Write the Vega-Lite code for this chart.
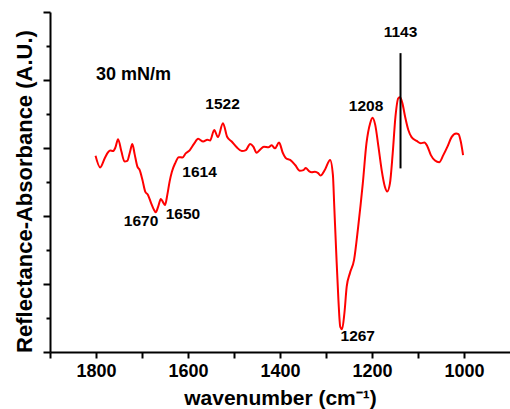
{
  "$schema": "https://vega.github.io/schema/vega-lite/v6.json",
  "width": 460,
  "height": 340,
  "autosize": {"type": "none"},
  "padding": {"left": 50, "top": 12, "right": 0, "bottom": 57},
  "config": {
    "view": {"stroke": null},
    "font": "Liberation Sans",
    "axis": {"grid": false, "domainColor": "black", "tickColor": "black", "labelColor": "black", "titleColor": "black", "labelFont": "Liberation Sans", "titleFont": "Liberation Sans"}
  },
  "datasets": {
    "spectrum": [
      {"wavenumber": 1801, "absorbance": 5.77}, {"wavenumber": 1791, "absorbance": 5.43},
      {"wavenumber": 1781, "absorbance": 5.70}, {"wavenumber": 1774, "absorbance": 5.87},
      {"wavenumber": 1769, "absorbance": 5.93}, {"wavenumber": 1763, "absorbance": 5.91},
      {"wavenumber": 1758, "absorbance": 6.01}, {"wavenumber": 1752, "absorbance": 6.26},
      {"wavenumber": 1745, "absorbance": 5.91}, {"wavenumber": 1738, "absorbance": 5.60},
      {"wavenumber": 1732, "absorbance": 5.62}, {"wavenumber": 1726, "absorbance": 5.89},
      {"wavenumber": 1721, "absorbance": 6.12}, {"wavenumber": 1716, "absorbance": 5.82},
      {"wavenumber": 1710, "absorbance": 5.45}, {"wavenumber": 1705, "absorbance": 5.35},
      {"wavenumber": 1699, "absorbance": 5.06}, {"wavenumber": 1693, "absorbance": 4.72},
      {"wavenumber": 1687, "absorbance": 4.62}, {"wavenumber": 1680, "absorbance": 4.37},
      {"wavenumber": 1675, "absorbance": 4.21}, {"wavenumber": 1670, "absorbance": 4.11},
      {"wavenumber": 1665, "absorbance": 4.27}, {"wavenumber": 1659, "absorbance": 4.50},
      {"wavenumber": 1654, "absorbance": 4.40}, {"wavenumber": 1650, "absorbance": 4.32},
      {"wavenumber": 1645, "absorbance": 4.62}, {"wavenumber": 1640, "absorbance": 5.01},
      {"wavenumber": 1635, "absorbance": 5.30}, {"wavenumber": 1628, "absorbance": 5.55},
      {"wavenumber": 1620, "absorbance": 5.73}, {"wavenumber": 1612, "absorbance": 5.72},
      {"wavenumber": 1605, "absorbance": 5.84}, {"wavenumber": 1596, "absorbance": 5.94},
      {"wavenumber": 1587, "absorbance": 6.12}, {"wavenumber": 1578, "absorbance": 6.27},
      {"wavenumber": 1567, "absorbance": 6.19}, {"wavenumber": 1558, "absorbance": 6.24},
      {"wavenumber": 1552, "absorbance": 6.22}, {"wavenumber": 1543, "absorbance": 6.53},
      {"wavenumber": 1535, "absorbance": 6.32}, {"wavenumber": 1524, "absorbance": 6.73},
      {"wavenumber": 1515, "absorbance": 6.33}, {"wavenumber": 1505, "absorbance": 6.19},
      {"wavenumber": 1494, "absorbance": 6.02}, {"wavenumber": 1483, "absorbance": 5.91},
      {"wavenumber": 1474, "absorbance": 5.94}, {"wavenumber": 1465, "absorbance": 6.12},
      {"wavenumber": 1458, "absorbance": 6.04}, {"wavenumber": 1451, "absorbance": 5.86},
      {"wavenumber": 1444, "absorbance": 5.94}, {"wavenumber": 1435, "absorbance": 6.04},
      {"wavenumber": 1425, "absorbance": 6.02}, {"wavenumber": 1418, "absorbance": 6.08},
      {"wavenumber": 1411, "absorbance": 5.99}, {"wavenumber": 1402, "absorbance": 6.16},
      {"wavenumber": 1394, "absorbance": 5.86}, {"wavenumber": 1387, "absorbance": 5.70},
      {"wavenumber": 1378, "absorbance": 5.65}, {"wavenumber": 1367, "absorbance": 5.50},
      {"wavenumber": 1357, "absorbance": 5.33}, {"wavenumber": 1349, "absorbance": 5.35},
      {"wavenumber": 1344, "absorbance": 5.41}, {"wavenumber": 1337, "absorbance": 5.32},
      {"wavenumber": 1331, "absorbance": 5.29}, {"wavenumber": 1324, "absorbance": 5.30},
      {"wavenumber": 1317, "absorbance": 5.26}, {"wavenumber": 1312, "absorbance": 5.19},
      {"wavenumber": 1302, "absorbance": 5.37}, {"wavenumber": 1291, "absorbance": 5.65},
      {"wavenumber": 1285, "absorbance": 5.21}, {"wavenumber": 1282, "absorbance": 4.27},
      {"wavenumber": 1278, "absorbance": 3.00}, {"wavenumber": 1273, "absorbance": 1.53},
      {"wavenumber": 1269, "absorbance": 0.74}, {"wavenumber": 1265, "absorbance": 0.67},
      {"wavenumber": 1260, "absorbance": 1.14}, {"wavenumber": 1255, "absorbance": 1.92},
      {"wavenumber": 1248, "absorbance": 2.32}, {"wavenumber": 1239, "absorbance": 2.71},
      {"wavenumber": 1230, "absorbance": 3.69}, {"wavenumber": 1220, "absorbance": 4.96},
      {"wavenumber": 1212, "absorbance": 6.14}, {"wavenumber": 1204, "absorbance": 6.73},
      {"wavenumber": 1199, "absorbance": 6.89}, {"wavenumber": 1193, "absorbance": 6.68},
      {"wavenumber": 1186, "absorbance": 6.04}, {"wavenumber": 1179, "absorbance": 5.35},
      {"wavenumber": 1172, "absorbance": 4.86}, {"wavenumber": 1167, "absorbance": 4.72},
      {"wavenumber": 1161, "absorbance": 4.96}, {"wavenumber": 1155, "absorbance": 5.84},
      {"wavenumber": 1149, "absorbance": 6.92}, {"wavenumber": 1143, "absorbance": 7.46},
      {"wavenumber": 1139, "absorbance": 7.49}, {"wavenumber": 1134, "absorbance": 7.32},
      {"wavenumber": 1128, "absorbance": 6.92}, {"wavenumber": 1121, "absorbance": 6.53},
      {"wavenumber": 1114, "absorbance": 6.32}, {"wavenumber": 1103, "absorbance": 6.21},
      {"wavenumber": 1094, "absorbance": 6.14}, {"wavenumber": 1086, "absorbance": 6.16},
      {"wavenumber": 1080, "absorbance": 6.06}, {"wavenumber": 1072, "absorbance": 5.79},
      {"wavenumber": 1063, "absorbance": 5.63}, {"wavenumber": 1054, "absorbance": 5.58},
      {"wavenumber": 1045, "absorbance": 5.79}, {"wavenumber": 1036, "absorbance": 6.04},
      {"wavenumber": 1027, "absorbance": 6.32}, {"wavenumber": 1017, "absorbance": 6.43},
      {"wavenumber": 1012, "absorbance": 6.41}, {"wavenumber": 1007, "absorbance": 6.19},
      {"wavenumber": 1002, "absorbance": 5.79}
    ],
    "marker": [{"wavenumber": 1138, "top": 8.79, "bottom": 5.40}],
    "peaks": [
      {"wavenumber": 1525, "absorbance": 7.29, "label": "1522"},
      {"wavenumber": 1575, "absorbance": 5.29, "label": "1614"},
      {"wavenumber": 1702, "absorbance": 3.85, "label": "1670"},
      {"wavenumber": 1611, "absorbance": 4.06, "label": "1650"},
      {"wavenumber": 1213, "absorbance": 7.24, "label": "1208"},
      {"wavenumber": 1138, "absorbance": 9.40, "label": "1143"},
      {"wavenumber": 1231, "absorbance": 0.47, "label": "1267"}
    ],
    "condition": [{"wavenumber": 1800, "absorbance": 8.15, "label": "30 mN/m"}]
  },
  "layer": [
    {
      "data": {"name": "spectrum"},
      "mark": {"type": "line", "color": "#ff0000", "strokeWidth": 2, "interpolate": "monotone"},
      "encoding": {
        "x": {
          "field": "wavenumber", "type": "quantitative",
          "scale": {"domain": [900, 1900], "reverse": true, "nice": false, "zero": false},
          "axis": {
            "values": [1900, 1800, 1700, 1600, 1500, 1400, 1300, 1200, 1100, 1000],
            "labelExpr": "datum.value % 200 == 0 ? datum.label : ''",
            "format": "d",
            "tickSize": 6, "tickWidth": 2, "domainWidth": 2,
            "labelFontSize": 18, "labelFontWeight": "bold", "labelPadding": 4,
            "labelFlush": false,
            "title": "wavenumber (cm⁻¹)", "titleFontSize": 21, "titleFontWeight": "bold",
            "titleAnchor": "middle", "titleBaseline": "middle", "titleX": 230, "titleY": 46
          }
        },
        "y": {
          "field": "absorbance", "type": "quantitative",
          "scale": {"domain": [0, 10], "nice": false, "zero": false},
          "axis": {
            "values": [0, 2, 4, 6, 8, 10],
            "labels": false, "tickSize": 7, "tickWidth": 2, "domainWidth": 2,
            "title": "Reflectance-Absorbance (A.U.)", "titleFontSize": 22, "titleFontWeight": "bold",
            "titleAngle": -90, "titleAlign": "center", "titleBaseline": "middle",
            "titleX": -26, "titleY": 179
          }
        }
      }
    },
    {
      "data": {"name": "marker"},
      "mark": {"type": "rule", "color": "black", "strokeWidth": 2},
      "encoding": {
        "x": {"field": "wavenumber", "type": "quantitative"},
        "y": {
          "field": "top", "type": "quantitative",
          "axis": {"orient": "left", "values": [1, 3, 5, 7, 9], "labels": false, "domain": false, "tickSize": 4, "tickWidth": 2, "title": null}
        },
        "y2": {"field": "bottom"}
      }
    },
    {
      "data": {"name": "peaks"},
      "mark": {"type": "text", "fontSize": 15.5, "fontWeight": "bold", "align": "center", "baseline": "middle", "color": "black"},
      "encoding": {
        "x": {"field": "wavenumber", "type": "quantitative"},
        "y": {"field": "absorbance", "type": "quantitative", "axis": null},
        "text": {"field": "label"}
      }
    },
    {
      "data": {"name": "condition"},
      "mark": {"type": "text", "fontSize": 18, "fontWeight": "bold", "align": "left", "baseline": "middle", "color": "black"},
      "encoding": {
        "x": {"field": "wavenumber", "type": "quantitative"},
        "y": {"field": "absorbance", "type": "quantitative", "axis": null},
        "text": {"field": "label"}
      }
    }
  ],
  "resolve": {"axis": {"y": "independent"}}
}
